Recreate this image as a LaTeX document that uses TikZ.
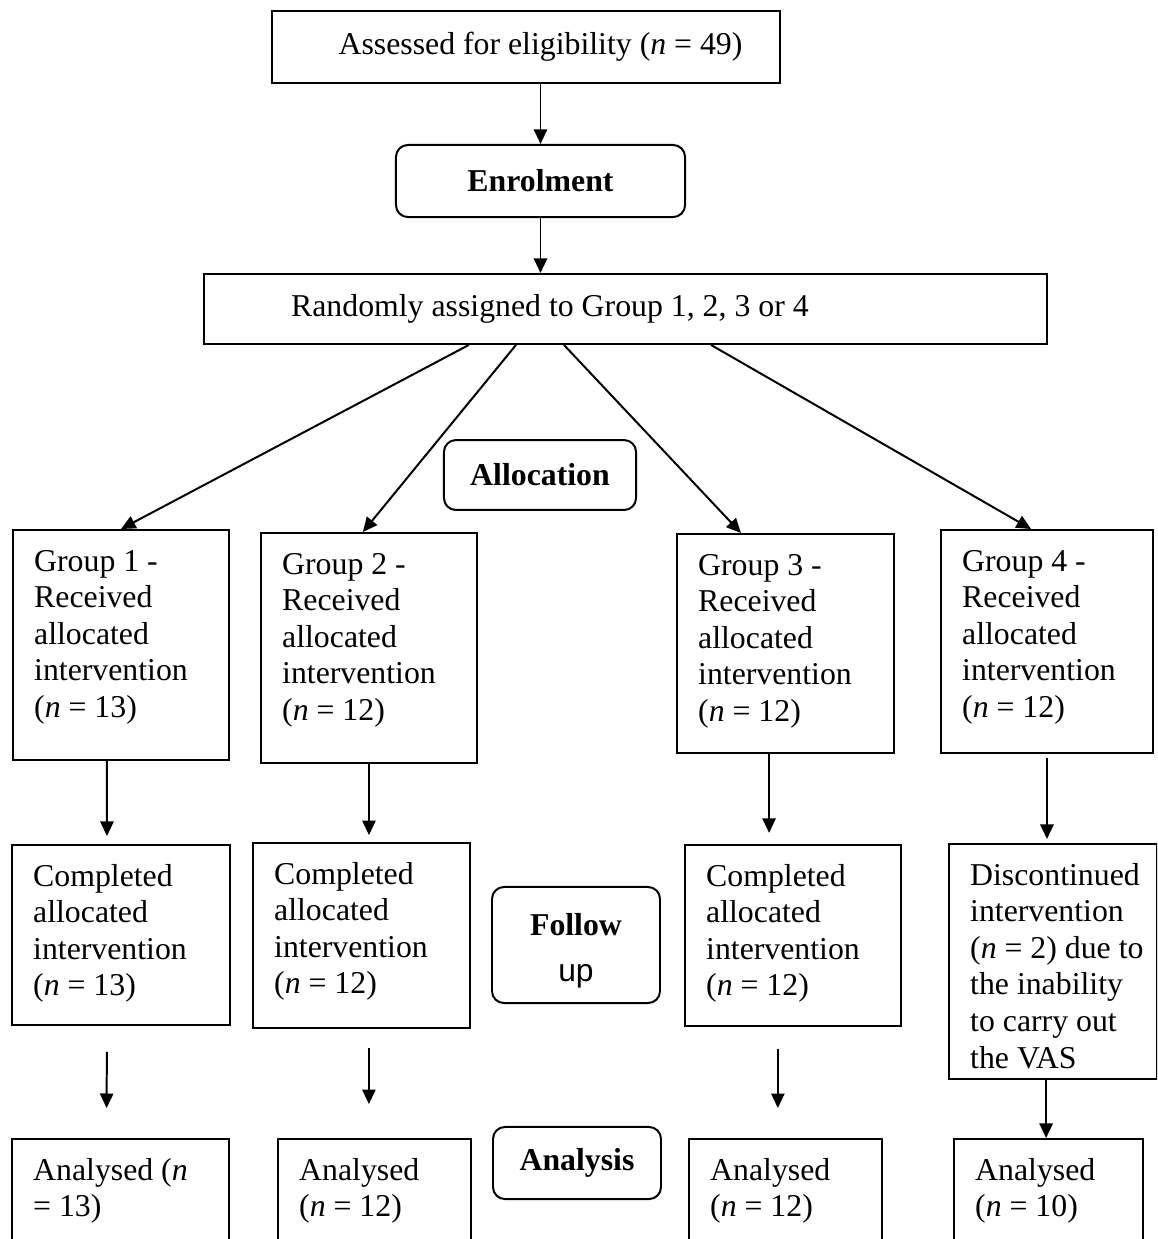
\documentclass[tikz,border=0pt]{standalone}
\usepackage{fontspec}
\setmainfont{Liberation Serif}
\newfontfamily\arialfont{Liberation Sans}
\usepackage{tikz}
\usetikzlibrary{positioning,arrows.meta,calc}

% text block of a plain box: width, height, lines
\newcommand{\boxtext}[3]{\parbox[c][#2][t]{#1}{\raggedright\leftskip=8pt\relax\vspace*{5.9pt}\strut#3}}

\begin{document}
\begin{tikzpicture}[x=0.3774pt, y=-0.3774pt,
    font=\fontsize{12}{13.8}\selectfont,
    box/.style={draw, line width=0.75pt, inner sep=0pt, anchor=north west},
    stage/.style={draw, line width=0.75pt, rounded corners=4.5pt, inner sep=0pt,
      align=center, font=\fontsize{12}{13.8}\selectfont\bfseries},
    arr/.style={-{Triangle[length=5.5pt,width=5pt]}, line width=0.75pt}]
    \clip (0,0) rectangle (1157,1239);

    \node[box, minimum width=191.7pt, minimum height=27.2pt] (assess) at (271,10)
      {\hspace*{11pt}Assessed for eligibility (\textit{n} = 49)};
    \node[stage, minimum width=109.1pt, minimum height=27.2pt] (enrol) at (540.5,181) {Enrolment};
    \node[box, minimum width=318.1pt, minimum height=26.4pt] (rand) at (203,273)
      {\raisebox{1.9pt}{Randomly assigned to Group 1, 2, 3 or 4}\hspace*{57pt}};
    \node[stage, minimum width=72.5pt, minimum height=26.4pt] (alloc) at (540,475) {Allocation};

    % allocation
    \node[box] (g1) at (12,529) {\boxtext{81.5pt}{86.8pt}{Group 1 -\\Received\\allocated\\intervention\\(\textit{n} = 13)}};
    \node[box] (g2) at (260,532) {\boxtext{81.5pt}{86.8pt}{Group 2 -\\Received\\allocated\\intervention\\(\textit{n} = 12)}};
    \node[box] (g3) at (676,533) {\boxtext{81.9pt}{82.7pt}{Group 3 -\\Received\\allocated\\intervention\\(\textit{n} = 12)}};
    \node[box] (g4) at (940,529) {\boxtext{80pt}{84.2pt}{Group 4 -\\Received\\allocated\\intervention\\(\textit{n} = 12)}};

    % follow up
    \node[box] (c1) at (11,844) {\boxtext{82.3pt}{67.9pt}{Completed\\allocated\\intervention\\(\textit{n} = 13)}};
    \node[box] (c2) at (252,842) {\boxtext{81.9pt}{69.8pt}{Completed\\allocated\\intervention\\(\textit{n} = 12)}};
    \node[stage, minimum width=63.4pt, minimum height=43.8pt] (follow) at (576,945)
      {\rule{0pt}{12.8pt}Follow\\[3.8pt]{\arialfont\mdseries up}};
    \node[box] (c3) at (684,844) {\boxtext{81.5pt}{68.3pt}{Completed\\allocated\\intervention\\(\textit{n} = 12)}};
    \node[box] (disc) at (948,843) {\boxtext{78.5pt}{88.7pt}{Discontinued\\intervention\\(\textit{n} = 2) due to\\the inability\\to carry out\\the VAS}};

    % analysis
    \node[box] (a1) at (11,1138) {\boxtext{81.9pt}{46pt}{Analysed (\textit{n}\\= 13)}};
    \node[box] (a2) at (277,1138) {\boxtext{72.8pt}{46pt}{Analysed\\(\textit{n} = 12)}};
    \node[stage, minimum width=63.4pt, minimum height=27.2pt] (analysis) at (577,1163) {\raisebox{-0.6pt}{Analysis}};
    \node[box] (a3) at (688,1138) {\boxtext{72.8pt}{46pt}{Analysed\\(\textit{n} = 12)}};
    \node[box] (a4) at (953,1138) {\boxtext{71.3pt}{46pt}{Analysed\\(\textit{n} = 10)}};

    \draw[arr] (assess.south -| enrol.north) -- (enrol.north);
    \draw[arr] (enrol.south) -- (enrol.south |- rand.north);
    \draw[arr] ([xshift=-59.1pt]rand.south) -- (g1.north);
    \draw[arr] ([xshift=-41.3pt]rand.south) -- ([xshift=-2.3pt]g2.north);
    \draw[arr] ([xshift=-23.2pt]rand.south) -- ([xshift=-16.8pt]g3.north);
    \draw[arr] ([xshift=32.3pt]rand.south) -- ([xshift=-6pt]g4.north);

    \draw[arr, shorten >=3pt] ([xshift=-5.3pt]g1.south) -- ([xshift=-5.3pt]c1.north);
    \draw[arr, shorten >=2.6pt] (g2.south) -- (g2.south |- c2.north);
    \draw[arr, shorten >=4.2pt] ([xshift=-6.2pt]g3.south) -- ([xshift=-6.2pt]g3.south |- c3.north);
    \draw[arr, shorten <=1.5pt, shorten >=1.5pt] (g4.south) -- (g4.south |- disc.north);

    \draw[arr, shorten <=9.8pt, shorten >=11.3pt] ([xshift=-5.3pt]c1.south) -- ([xshift=-5.3pt]a1.north);
    \draw[arr, shorten <=7.2pt, shorten >=12.8pt] ([xshift=2.8pt]c2.south) -- ([xshift=2.8pt]c2.south |- a2.north);
    \draw[arr, shorten <=8.3pt, shorten >=11.3pt] ([xshift=-5.7pt]c3.south) -- ([xshift=-5.7pt]c3.south |- a3.north);
    \draw[arr] ([xshift=-2.6pt]disc.south) -- ([xshift=-2.6pt]disc.south |- a4.north);
\end{tikzpicture}
\end{document}
